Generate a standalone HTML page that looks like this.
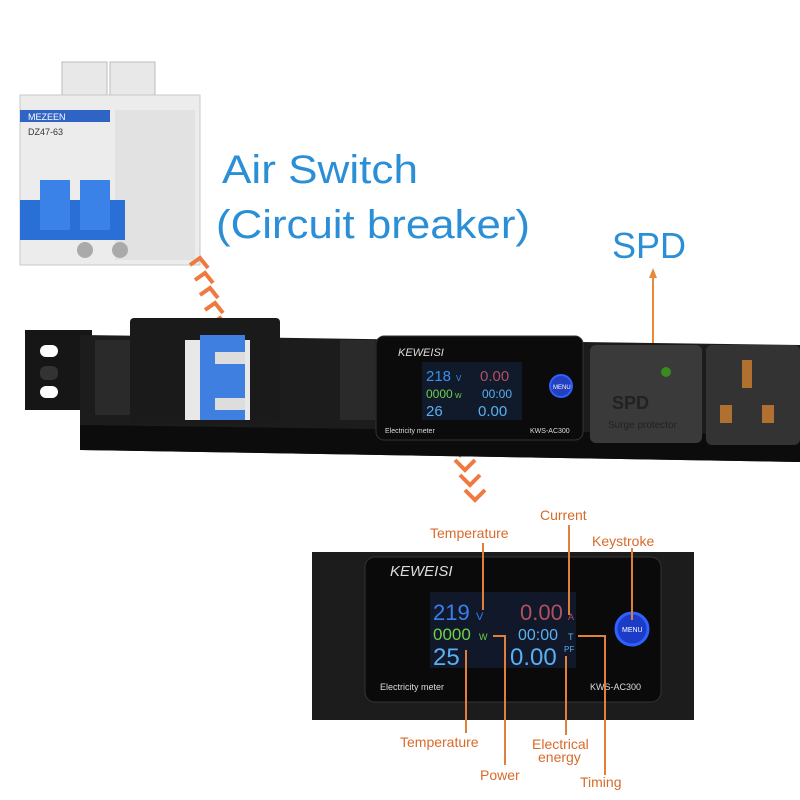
<!DOCTYPE html>
<html><head><meta charset="utf-8"><style>
html,body{margin:0;padding:0;background:#fff;}
svg{display:block;}
text{font-family:"Liberation Sans",sans-serif;}
</style></head><body>
<svg width="800" height="800" viewBox="0 0 800 800" xmlns="http://www.w3.org/2000/svg">
<rect width="800" height="800" fill="#fff"/>
<g>
<rect x="62" y="62" width="45" height="40" fill="#e8e8e8" stroke="#bbb"/>
<rect x="110" y="62" width="45" height="40" fill="#e8e8e8" stroke="#bbb"/>
<rect x="20" y="95" width="180" height="170" fill="#ececec" stroke="#c8c8c8"/>
<rect x="20" y="110" width="90" height="12" fill="#2f63c4"/>
<text x="28" y="120" font-size="9" fill="#fff">MEZEEN</text>
<text x="28" y="135" font-size="9" fill="#333">DZ47-63</text>
<rect x="115" y="110" width="80" height="150" fill="#e2e2e2"/>
<rect x="20" y="200" width="105" height="40" fill="#2a6fd6"/>
<rect x="40" y="180" width="30" height="50" fill="#3b82e8"/>
<rect x="80" y="180" width="30" height="50" fill="#3b82e8"/>
<circle cx="85" cy="250" r="8" fill="#aaa"/><circle cx="120" cy="250" r="8" fill="#aaa"/>
</g>
<text x="222" y="183" font-size="40" fill="#2a8fd6" textLength="196" lengthAdjust="spacingAndGlyphs">Air Switch</text>
<text x="216" y="238" font-size="40" fill="#2a8fd6" textLength="314" lengthAdjust="spacingAndGlyphs">(Circuit breaker)</text>
<text x="612" y="258" font-size="36" fill="#2a8fd6">SPD</text>
<line x1="653" y1="275" x2="653" y2="362" stroke="#e88a3a" stroke-width="2"/>
<polygon points="653,268 649,278 657,278" fill="#e88a3a"/>
<g fill="none" stroke="#ef7a40" stroke-width="4">
<polyline points="190,265 200,258 208,268"/>
<polyline points="195,280 205,273 213,283"/>
<polyline points="200,295 210,288 218,298"/>
<polyline points="205,310 215,303 223,313"/>
<polyline points="210,325 220,318 228,328"/>
<polyline points="450,445 460,455 470,445"/>
<polyline points="455,460 465,470 475,460"/>
<polyline points="460,475 470,485 480,475"/>
<polyline points="465,490 475,500 485,490"/>
</g>
<polygon points="25,330 92,330 92,410 25,410" fill="#161616"/>
<rect x="40" y="345" width="18" height="12" rx="6" fill="#fff"/>
<rect x="40" y="366" width="18" height="14" rx="6" fill="#333"/>
<rect x="40" y="386" width="18" height="12" rx="6" fill="#fff"/>
<polygon points="80,335 800,345 800,462 80,450" fill="#1c1c1c"/>
<polygon points="80,425 800,435 800,462 80,450" fill="#0c0c0c"/>
<rect x="95" y="340" width="45" height="75" fill="#2a2a2a"/>
<rect x="130" y="318" width="150" height="105" rx="4" fill="#1a1a1a"/>
<rect x="185" y="340" width="65" height="80" fill="#e8e8e8"/>
<rect x="200" y="335" width="45" height="85" fill="#3e7fe0"/>
<rect x="215" y="352" width="30" height="12" fill="#ddd"/>
<rect x="215" y="398" width="30" height="12" fill="#ddd"/>
<rect x="340" y="340" width="35" height="80" fill="#2a2a2a"/>
<rect x="376" y="336" width="207" height="104" rx="8" fill="#0b0b0b" stroke="#333"/>
<text x="398" y="356" font-size="11" font-style="italic" fill="#ddd">KEWEISI</text>
<rect x="422" y="362" width="100" height="58" fill="#111a2a"/>
<text x="426" y="381" font-size="15" fill="#3a8ff0">218</text><text x="456" y="381" font-size="8" fill="#3a8ff0">V</text>
<text x="480" y="381" font-size="15" fill="#b05060">0.00</text>
<text x="426" y="398" font-size="12" fill="#6fd04a">0000</text><text x="455" y="398" font-size="7" fill="#6fd04a">W</text>
<text x="482" y="398" font-size="12" fill="#5ab0f0">00:00</text>
<text x="426" y="416" font-size="15" fill="#5ab0f0">26</text>
<text x="478" y="416" font-size="15" fill="#5ab0f0">0.00</text>
<circle cx="561" cy="386" r="11" fill="#2340c0" stroke="#3060ff" stroke-width="2"/>
<text x="553" y="389" font-size="6" fill="#fff">MENU</text>
<text x="385" y="433" font-size="7" fill="#ddd">Electricity meter</text>
<text x="530" y="433" font-size="7" fill="#ddd">KWS-AC300</text>
<rect x="590" y="345" width="112" height="98" rx="6" fill="#3a3a3a"/>
<circle cx="666" cy="372" r="5" fill="#3a8a20"/>
<text x="612" y="409" font-size="18" font-weight="bold" fill="#222">SPD</text>
<text x="608" y="428" font-size="10" fill="#222">Surge protector</text>
<rect x="706" y="345" width="94" height="100" rx="6" fill="#333"/>
<rect x="742" y="360" width="10" height="28" fill="#b07030"/>
<rect x="720" y="405" width="12" height="18" fill="#b07030"/>
<rect x="762" y="405" width="12" height="18" fill="#b07030"/>
<rect x="312" y="552" width="382" height="168" fill="#1c1c1c"/>
<rect x="365" y="557" width="296" height="145" rx="10" fill="#0a0a0a" stroke="#333"/>
<text x="390" y="576" font-size="15" font-style="italic" fill="#ddd">KEWEISI</text>
<rect x="430" y="592" width="146" height="76" fill="#10182a"/>
<text x="433" y="620" font-size="22" fill="#3a7ff0">219</text><text x="476" y="620" font-size="11" fill="#3a7ff0">V</text>
<text x="520" y="620" font-size="22" fill="#b05060">0.00</text><text x="568" y="620" font-size="9" fill="#b05060">A</text>
<text x="433" y="640" font-size="17" fill="#6fd04a">0000</text><text x="479" y="640" font-size="9" fill="#6fd04a">W</text>
<text x="518" y="640" font-size="16" fill="#5ab0f0">00:00</text><text x="568" y="640" font-size="9" fill="#5ab0f0">T</text>
<text x="433" y="665" font-size="24" fill="#5ab0f0">25</text>
<text x="510" y="665" font-size="24" fill="#5ab0f0">0.00</text><text x="564" y="652" font-size="8" fill="#5ab0f0">PF</text>
<circle cx="632" cy="629" r="16" fill="#1c3cc8" stroke="#3060ff" stroke-width="3"/>
<text x="622" y="632" font-size="7" fill="#fff">MENU</text>
<text x="380" y="690" font-size="9" fill="#ddd">Electricity meter</text>
<text x="590" y="690" font-size="9" fill="#ddd">KWS-AC300</text>
<g stroke="#e0803a" stroke-width="2" fill="none">
<line x1="483" y1="543" x2="483" y2="610"/>
<line x1="569" y1="525" x2="569" y2="615"/>
<line x1="632" y1="548" x2="632" y2="620"/>
<line x1="466" y1="650" x2="466" y2="733"/>
<polyline points="493,636 505,636 505,765"/>
<line x1="566" y1="656" x2="566" y2="735"/>
<polyline points="578,636 605,636 605,775"/>
</g>
<g font-size="14" fill="#d86a2a">
<text x="430" y="538">Temperature</text>
<text x="540" y="520">Current</text>
<text x="592" y="546">Keystroke</text>
<text x="400" y="747">Temperature</text>
<text x="480" y="780">Power</text>
<text x="532" y="749">Electrical</text>
<text x="538" y="762">energy</text>
<text x="580" y="787">Timing</text>
</g>
</svg>
</body></html>
